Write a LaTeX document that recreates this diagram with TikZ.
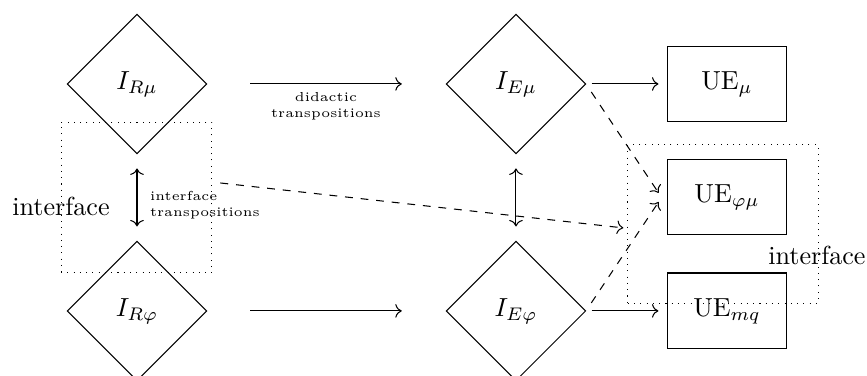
\documentclass[tikz,border=0pt]{standalone}
\usepackage{amsmath,amssymb}
\usepackage{xcolor}
\usepackage{tikz}
\usetikzlibrary{calc,arrows.meta,positioning,shapes.geometric}
\definecolor{tdInk}{RGB}{0,0,0}

\begin{document}
\begin{tikzpicture}[
  gem/.style={draw=tdInk, shape=diamond, aspect=1, minimum size=1.88cm, inner sep=0pt},
  unit/.style={draw=tdInk, minimum width=1.61cm, minimum height=1.02cm},
  zone/.style={draw=tdInk, dotted, inner sep=0pt},
  note/.style={font=\tiny, inner sep=1pt},
  link/.style={draw=tdInk, ->}
]
\useasboundingbox (0,0) rectangle (11.67,5.06);

% interface zones
\node[zone, minimum width=2.03cm, minimum height=2.03cm] (leftzone) at (1.837,2.402) {};
\node[zone, minimum width=2.56cm, minimum height=2.13cm] (rightzone) at (9.731,2.046) {};
\node (leftname) at (0.821,2.275) {interface};
\node (rightname) at (10.996,1.615) {interface};

% institutions
\node[gem] (Rmu) at (1.844,3.930) {$I_{R\mu}$};
\node[gem] (Rphi) at (1.844,0.875) {$I_{R\varphi}$};
\node[gem] (Emu) at (6.945,3.930) {$I_{E\mu}$};
\node[gem] (Ephi) at (6.945,0.875) {$I_{E\varphi}$};

% teaching units
\node[unit] (UEmu) at (9.785,3.930) {UE$_{\mu}$};
\node[unit] (UEpm) at (9.785,2.409) {UE$_{\varphi\mu}$};
\node[unit] (UEmq) at (9.785,0.875) {UE$_{mq}$};

% transpositions
\draw[link, shorten <=0.58cm, shorten >=0.59cm] (Rmu.east) -- (Emu.west);
\draw[link, shorten <=0.58cm, shorten >=0.59cm] (Rphi.east) -- (Ephi.west);
\node[note, align=center] (didlabel) at (4.388,3.634) {didactic\\transpositions};

\draw[link, <->, shorten <=0.19cm, shorten >=0.19cm] (Rmu.south) -- (Rphi.north);
\draw[link, <->, shorten <=0.19cm, shorten >=0.19cm] (Emu.south) -- (Ephi.north);
\node[note, align=left, anchor=west] (iflabel) at (1.978,2.302) {interface\\transpositions};

\draw[link, shorten <=0.07cm, shorten >=0.11cm] (Emu.east) -- (UEmu.west);
\draw[link, shorten <=0.07cm, shorten >=0.11cm] (Ephi.east) -- (UEmq.west);

\draw[link, dashed] ([shift={(0.067,-0.108)}]Emu.east) -- ([shift={(-0.108,0.054)}]UEpm.west);
\draw[link, dashed] ([shift={(0.067,0.108)}]Ephi.east) -- ([shift={(-0.108,-0.067)}]UEpm.west);
\draw[link, dashed] ([shift={(0.108,0.195)}]leftzone.east) -- ([shift={(-0.054,-0.054)}]rightzone.west);
\end{tikzpicture}
\end{document}
